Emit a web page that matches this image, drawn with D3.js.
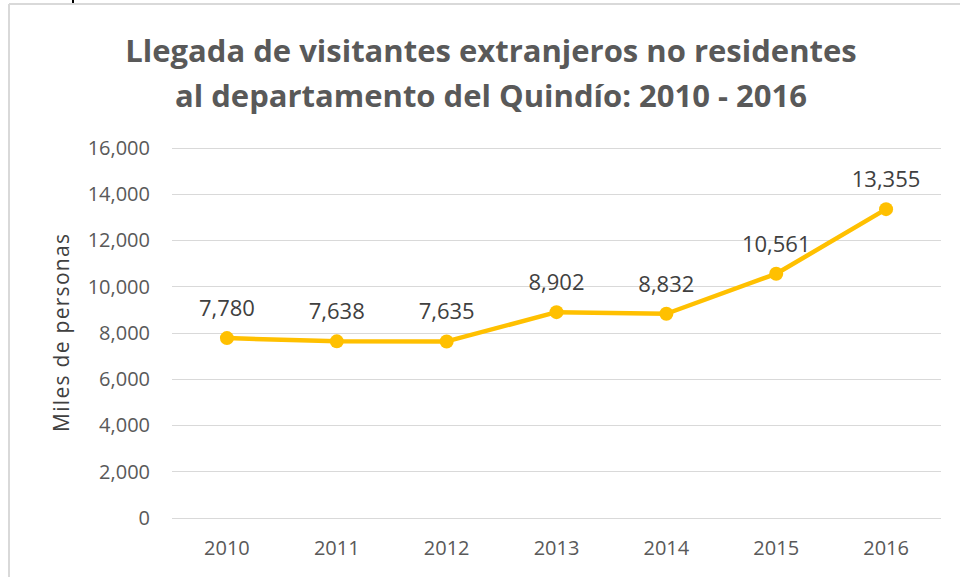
<!DOCTYPE html>
<html>
<head>
<meta charset="utf-8">
<script src="https://cdn.jsdelivr.net/npm/d3@7"></script>
<style>
  body { margin: 0; background: #fff; }
  text { font-family: "Open Sans", "Liberation Sans", sans-serif; }
</style>
</head>
<body>
<div id="chart"></div>
<script>
const years = ["2010", "2011", "2012", "2013", "2014", "2015", "2016"];
const visitors = [7780, 7638, 7635, 8902, 8832, 10561, 13355];
const yTicks = [0, 2000, 4000, 6000, 8000, 10000, 12000, 14000, 16000];
const titleLines = ["Llegada de visitantes extranjeros no residentes",
                    "al departamento del Quindío: 2010 - 2016"];

const width = 960, height = 577;
const margin = {top: 148, right: 19, bottom: 59, left: 172};

const svg = d3.select("#chart")
  .append("svg")
    .attr("width", width)
    .attr("height", height);

// chart frame (only top and left edges visible in the crop)
svg.append("line")
  .attr("x1", 9).attr("x2", width).attr("y1", 4).attr("y2", 4)
  .attr("stroke", "#d9d9d9").attr("stroke-width", 2);
svg.append("line")
  .attr("x1", 9).attr("x2", 9).attr("y1", 4).attr("y2", height)
  .attr("stroke", "#d9d9d9").attr("stroke-width", 2);
// stray glyph from text above the chart
svg.append("rect")
  .attr("x", 72).attr("y", 0).attr("width", 2).attr("height", 3)
  .attr("fill", "#000");

const g = svg.append("g")
  .attr("transform", `translate(${margin.left},${margin.top})`);

const w = width - margin.left - margin.right;
const h = height - margin.top - margin.bottom;

const x = d3.scaleBand()
  .domain(years)
  .range([0, w]);

const y = d3.scaleLinear()
  .domain([0, 16000])
  .range([h, 0]);

// gridlines
g.selectAll(".grid")
  .data(yTicks)
  .join("line")
    .attr("class", "grid")
    .attr("x1", 0).attr("x2", w)
    .attr("y1", d => y(d)).attr("y2", d => y(d))
    .attr("stroke", "#d9d9d9").attr("stroke-width", 1)
    .style("shape-rendering", "crispEdges");

// y axis labels
const yAxis = g.append("g")
  .call(d3.axisLeft(y).tickValues(yTicks).tickSize(0).tickPadding(22)
          .tickFormat(d3.format(",")));
yAxis.select(".domain").remove();
yAxis.selectAll("text")
  .attr("fill", "#595959")
  .style("font-size", "20px");

// x axis labels
const xAxis = g.append("g")
  .attr("transform", `translate(0,${h})`)
  .call(d3.axisBottom(x).tickSize(0).tickPadding(23));
xAxis.select(".domain").remove();
xAxis.selectAll("text")
  .attr("fill", "#595959")
  .style("font-size", "20px");

// line
const line = d3.line()
  .x((d, i) => x(years[i]) + x.bandwidth() / 2)
  .y(d => y(d));

g.append("path")
  .datum(visitors)
  .attr("fill", "none")
  .attr("stroke", "#ffc000")
  .attr("stroke-width", 4.5)
  .attr("stroke-linejoin", "round")
  .attr("d", line);

g.selectAll(".dot")
  .data(visitors)
  .join("circle")
    .attr("class", "dot")
    .attr("cx", (d, i) => x(years[i]) + x.bandwidth() / 2)
    .attr("cy", d => y(d))
    .attr("r", 7)
    .attr("fill", "#ffc000");

g.selectAll(".val")
  .data(visitors)
  .join("text")
    .attr("class", "val")
    .attr("x", (d, i) => x(years[i]) + x.bandwidth() / 2)
    .attr("y", d => y(d) - 22)
    .attr("text-anchor", "middle")
    .attr("fill", "#404040")
    .style("font-size", "22px")
    .text(d => d3.format(",")(d));

// axis title
svg.append("text")
  .attr("transform", `translate(69,333) rotate(-90)`)
  .attr("text-anchor", "middle")
  .attr("fill", "#404040")
  .style("font-size", "21px")
  .attr("textLength", 198)
  .attr("lengthAdjust", "spacing")
  .text("Miles de personas");

// title
svg.selectAll(".title")
  .data(titleLines)
  .join("text")
    .attr("class", "title")
    .attr("x", 491)
    .attr("y", (d, i) => 62 + i * 45)
    .attr("text-anchor", "middle")
    .attr("fill", "#595959")
    .style("font-size", "31px")
    .style("font-weight", "bold")
    .text(d => d);
</script>
</body>
</html>
